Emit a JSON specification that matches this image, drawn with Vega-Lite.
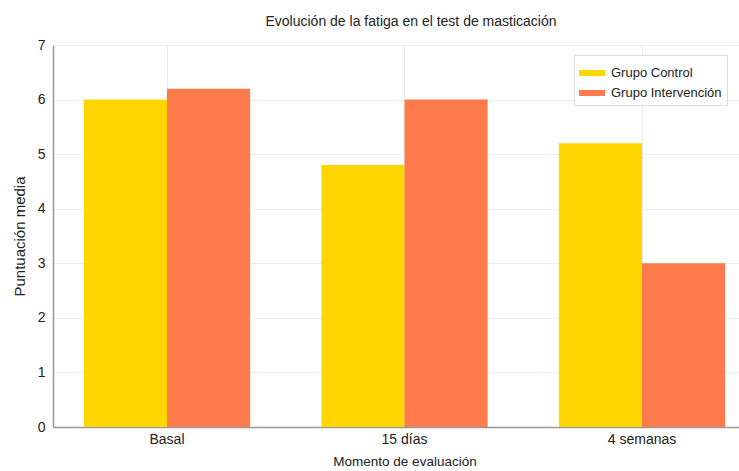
{
  "$schema": "https://vega.github.io/schema/vega-lite/v6.json",
  "width": 686,
  "height": 382,
  "autosize": {"type": "none"},
  "padding": {"left": 53, "top": 45, "right": 0, "bottom": 44},
  "background": "white",
  "title": {
    "text": "Evolución de la fatiga en el test de masticación",
    "font": "Liberation Sans",
    "fontSize": 14,
    "fontWeight": "normal",
    "color": "#222",
    "anchor": "middle",
    "dx": 15,
    "offset": 9
  },
  "config": {
    "view": {"stroke": null},
    "font": "Liberation Sans"
  },
  "data": {
    "values": [
      {"momento": "Basal", "grupo": "Grupo Control", "valor": 6.0},
      {"momento": "Basal", "grupo": "Grupo Intervención", "valor": 6.2},
      {"momento": "15 días", "grupo": "Grupo Control", "valor": 4.8},
      {"momento": "15 días", "grupo": "Grupo Intervención", "valor": 6.0},
      {"momento": "4 semanas", "grupo": "Grupo Control", "valor": 5.2},
      {"momento": "4 semanas", "grupo": "Grupo Intervención", "valor": 3.0}
    ]
  },
  "mark": {"type": "bar"},
  "encoding": {
    "x": {
      "field": "momento",
      "type": "nominal",
      "sort": ["Basal", "15 días", "4 semanas"],
      "scale": {"paddingInner": 0.30, "paddingOuter": 0.13, "range": [0, 703]},
      "axis": {
        "title": "Momento de evaluación",
        "titleFont": "Liberation Sans",
        "titleFontSize": 13.5,
        "titleFontWeight": "normal",
        "titleColor": "#222",
        "titlePadding": 8,
        "labelAngle": 0,
        "labelFontSize": 14,
        "labelColor": "#222",
        "labelPadding": 5,
        "ticks": false,
        "grid": true,
        "bandPosition": 0.5,
        "gridColor": "#ececec",
        "domainColor": "#999",
        "domainWidth": 1.5
      }
    },
    "xOffset": {
      "field": "grupo",
      "type": "nominal",
      "scale": {"paddingInner": 0, "paddingOuter": 0}
    },
    "y": {
      "field": "valor",
      "type": "quantitative",
      "scale": {"domain": [0, 7], "nice": false},
      "axis": {
        "title": "Puntuación media",
        "titleFont": "Liberation Sans",
        "titleFontSize": 15,
        "titleFontWeight": "normal",
        "titleColor": "#222",
        "titlePadding": 10,
        "values": [0, 1, 2, 3, 4, 5, 6, 7],
        "labelFontSize": 14,
        "labelColor": "#222",
        "labelPadding": 8,
        "tickSize": 0,
        "gridColor": "#ececec",
        "domainColor": "#999",
        "domainWidth": 1.5
      }
    },
    "color": {
      "field": "grupo",
      "type": "nominal",
      "scale": {
        "domain": ["Grupo Control", "Grupo Intervención"],
        "range": ["#FFD600", "#FF7B4B"]
      },
      "legend": {
        "title": null,
        "orient": "none",
        "legendX": 521,
        "legendY": 10,
        "fillColor": "white",
        "strokeColor": "#dddddd",
        "padding": 5,
        "labelFontSize": 13,
        "labelColor": "#222",
        "symbolType": "M-1,-0.23L1,-0.23L1,0.23L-1,0.23Z",
        "symbolSize": 676,
        "symbolStrokeWidth": 0,
        "symbolOpacity": 1,
        "rowPadding": -13,
        "labelOffset": 6
      }
    }
  }
}
